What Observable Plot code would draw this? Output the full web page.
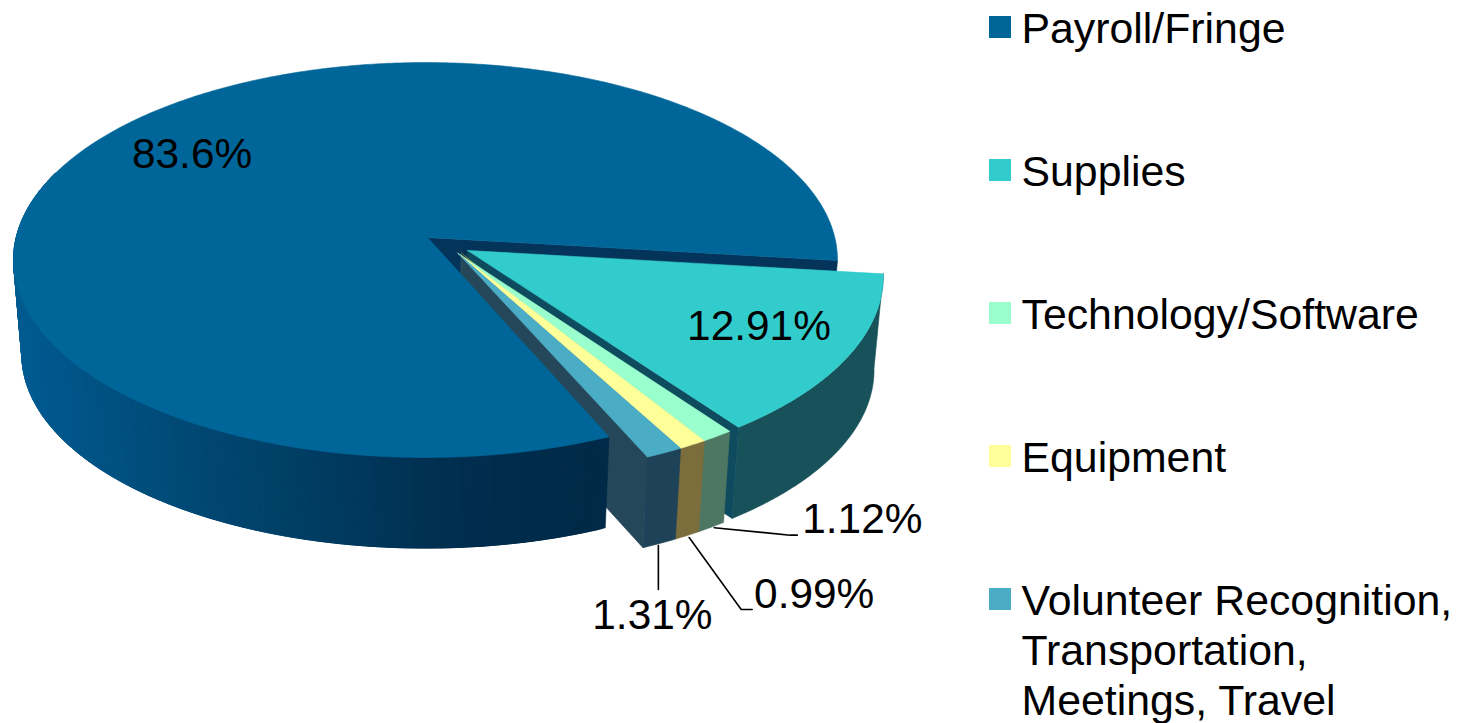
<!DOCTYPE html>
<html>
<head>
<meta charset="utf-8">
<style>
html,body{margin:0;padding:0;background:#fff;overflow:hidden}
svg{display:block}
</style>
<script src="https://cdn.jsdelivr.net/npm/d3@7"></script>
<script src="https://cdn.jsdelivr.net/npm/@observablehq/plot@0.6"></script>
</head>
<body>
<div id="chart"></div>
<script>
// ---- data ----
const categories = ["Payroll/Fringe", "Supplies", "Technology/Software", "Equipment", "Volunteer Recognition,\nTransportation,\nMeetings, Travel"];
const shares = [83.6, 12.91, 1.12, 0.99, 1.31];
const shareLabels = ["83.6%", "12.91%", "1.12%", "0.99%", "1.31%"];
const topColors = ["#006699", "#33cccc", "#99ffcc", "#ffff99", "#4bacc6"];
const sideColors = ["#012f50", "#17525a", "#4d7763", "#7b6d3c", "#1e4258"];
const wallColors = ["#05345a", "#0f4b5e", "#4d7763", "#7b6d3c", "#24475a"];

// ---- 3D view of the pie ----
const view = {x0: 425, k: 0.114, top: {y0: 237, B: 194.9, C: 409.3}, bottom: {y0: 332, B: 191, C: 401}};
const firstAngle = 8;               // degrees clockwise from east, where Supplies starts
const explode = [[0, 0], [0.102, 0.066], [0.087, 0.079], [0.087, 0.079], [0.087, 0.079]];
const apexNudge = [[0.005, 0], null, [0.079, 0.081], [0.079, 0.081], [0.079, 0.081]];
const edgeTrim = [[-0.5, -1.3], [-1.3, -0.4], [0, 0], [0, 0], [0, 0]]; // degrees added to each face's two edges

const rad = Math.PI / 180;
function project(u, v, level) {
  const p = view[level], d = 1 - view.k * v;
  return {x: view.x0 + p.C * u / d, y: p.y0 + p.B * v / d};
}
const total = d3.sum(shares);
const order = [1, 2, 3, 4, 0];      // clockwise drawing order around the pie
const slices = [];
{
  let a = firstAngle;
  for (const i of order) {
    const sweep = shares[i] / total * 360;
    slices[i] = {i, a0: a + edgeTrim[i][0], a1: a + sweep + edgeTrim[i][1], mid: a + sweep / 2, off: explode[i]};
    a += sweep;
  }
}
function rim(s, angle, level, r = 1) {
  return project(Math.cos(angle * rad) * r + s.off[0], Math.sin(angle * rad) * r + s.off[1], level);
}
const polys = [];
let pid = 0;
function poly(points, c) {
  const id = pid++;
  points.concat(points[0]).forEach(p => polys.push({id, x: p.x, y: p.y, c}));
}
function angles(a0, a1, step = 0.5) {
  const n = Math.max(2, Math.ceil(Math.abs(a1 - a0) / step));
  return d3.range(n + 1).map(j => a0 + (a1 - a0) * j / n);
}
// rim wall: a solid face for one colour, overlapping strips for a shaded one
function sideStrip(s, a0, a1, color) {
  const as = angles(a0, a1, 0.5);
  if (typeof color !== "function") {
    poly([...as.map(a => rim(s, a, "top")), ...as.slice().reverse().map(a => rim(s, a, "bottom"))], color);
    return;
  }
  // painted from the far end so each strip overlaps the seam of the one before it
  for (let j = as.length - 2; j >= 0; j--) {
    const end = Math.min(j + 3, as.length - 1);
    const p = rim(s, as[j], "top"), q = rim(s, as[j + 1], "top");
    const c = color((p.x + q.x) / 2);
    const span = as.slice(j, end + 1);
    poly([...span.map(a => rim(s, a, "top")), ...span.slice().reverse().map(a => rim(s, a, "bottom"))], c);
  }
}
function wall(s, angle, color) {
  poly([project(s.off[0], s.off[1], "top"), rim(s, angle, "top"), rim(s, angle, "bottom"), project(s.off[0], s.off[1], "bottom")], color);
}
function topFace(s, color) {
  const c = apexNudge[s.i] || s.off;
  poly([project(c[0], c[1], "top"), ...angles(s.a0, s.a1).map(a => rim(s, a, "top"))], color);
}
const [sMain, sSup, sTech, sEq, sVol] = slices;
const mainRamp = d3.scaleLinear().domain([15, 150, 300, 450, 607]).range(["#015b92", "#014d7b", "#003f65", "#012f50", "#002a47"]);

// back-to-front painting
wall(sMain, sMain.a1, wallColors[0]);
sideStrip(sSup, sSup.a0, sSup.a1, sideColors[1]);
wall(sSup, sSup.a1, wallColors[1]);
sideStrip(sTech, sTech.a0, sTech.a1, sideColors[2]);
wall(sTech, sTech.a1, wallColors[2]);
sideStrip(sEq, sEq.a0, sEq.a1, sideColors[3]);
wall(sEq, sEq.a1, wallColors[3]);
sideStrip(sVol, sVol.a0, sVol.a1, sideColors[4]);
wall(sVol, sVol.a1, wallColors[4]);
sideStrip(sMain, sMain.a0, 200, mainRamp);
topFace(sMain, topColors[0]);
topFace(sSup, topColors[1]);
topFace(sTech, topColors[2]);
topFace(sEq, topColors[3]);
topFace(sVol, topColors[4]);

// ---- labels ----
const legendFont = 42.8, labelFont = 42.4;
const inside = [
  {i: 0, ...rim(sMain, sMain.mid - 0.5, "top", 0.75)},
  {i: 1, ...rim(sSup, sSup.mid - 2.5, "top", 0.767)}
].map(d => ({...d, text: shareLabels[d.i]}));
const callouts = [
  {i: 2, elbow: [[3, 0.5], [79, 8], [86, 8]], text: [151, -8]},
  {i: 3, elbow: [[2, 2], [54, 74], [65, 74]], text: [127, 59]},
  {i: 4, elbow: [[-1, 2], [-1, 46]], text: [-7, 72]}
].map(d => ({...d, anchor: rim(slices[d.i], slices[d.i].mid, "bottom")}));
const leaders = callouts.flatMap(d => d.elbow.map(e => ({i: d.i, x: d.anchor.x + e[0], y: d.anchor.y + e[1]})));
const outside = callouts.map(d => ({i: d.i, text: shareLabels[d.i], x: d.anchor.x + d.text[0], y: d.anchor.y + d.text[1]}));

// ---- legend rows ----
const legendStep = 143;
const legend = categories.map((name, r) => ({
  name, color: topColors[r],
  sx1: 989, sx2: 1011, sy1: 16 + legendStep * r, sy2: 38 + legendStep * r,
  tx: 1021, ty: 6.7 + legendStep * r
}));

const chart = Plot.plot({
  width: 1462, height: 723,
  marginTop: 0, marginRight: 0, marginBottom: 0, marginLeft: 0,
  x: {domain: [0, 1462], axis: null},
  y: {domain: [723, 0], axis: null},
  color: {type: "identity"},
  style: {background: "#fff"},
  marks: [
    Plot.line(polys, {x: "x", y: "y", z: "id", fill: d => d.c, stroke: d => d.c, strokeWidth: 0.6, curve: "linear"}),
    Plot.line(leaders, {x: "x", y: "y", z: "i", stroke: "#000", strokeWidth: 1.6, curve: "linear"}),
    Plot.text(inside.concat(outside), {x: "x", y: "y", text: "text", fontSize: labelFont, fontFamily: "Liberation Sans", fill: "#000", lineAnchor: "middle", textAnchor: "middle"}),
    Plot.rect(legend, {x1: "sx1", x2: "sx2", y1: "sy1", y2: "sy2", fill: "color"}),
    Plot.text(legend, {x: "tx", y: "ty", text: "name", fontSize: legendFont, lineHeight: 1.17, fontFamily: "Liberation Sans", fill: "#000", lineAnchor: "top", textAnchor: "start"})
  ]
});
document.getElementById("chart").append(chart);
</script>
</body>
</html>
